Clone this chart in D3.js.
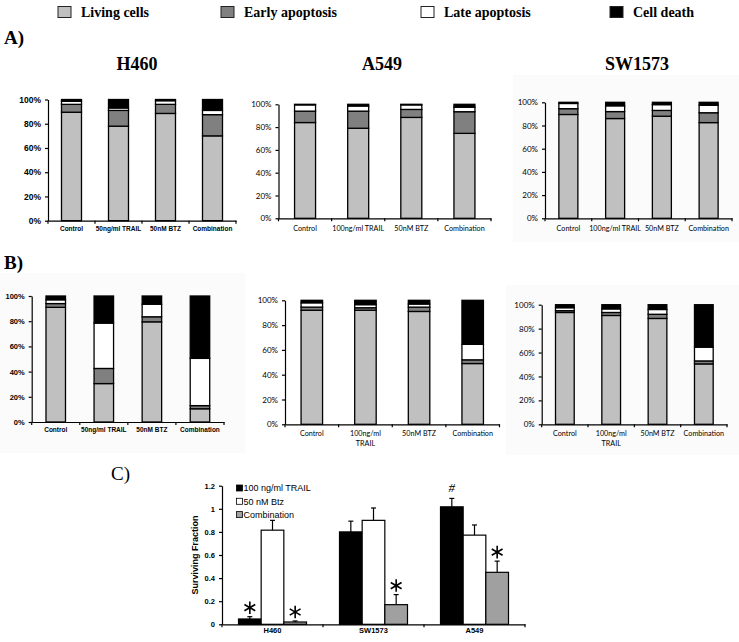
<!DOCTYPE html>
<html>
<head>
<meta charset="utf-8">
<script src="https://cdn.jsdelivr.net/npm/d3@7"></script>
<style>
  body { margin: 0; background: #fff; }
  svg { display: block; }
</style>
</head>
<body>
<div id="chart"></div>
<script>
// ---- data ----
var stageKeys = ["living", "early", "late", "death"];
var stageNames = ["Living cells", "Early apoptosis", "Late apoptosis", "Cell death"];

var treatH460 = ["Control", "50ng/ml TRAIL", "50nM BTZ", "Combination"];
var treatOther = ["Control", "100ng/ml TRAIL", "50nM BTZ", "Combination"];
var pctTicks = [0, 20, 40, 60, 80, 100];

// A) percentages per treatment: living, early, late, death
var aH460 = [[89.5, 6.5, 2.5, 1.5], [78, 13, 2, 7], [88.5, 7.5, 3, 1], [70, 17.5, 3.5, 9]];
var aA549 = [[84, 10, 5.5, 0.5], [79, 15, 4.5, 1.5], [88.5, 7, 4, 0.5], [74.5, 19, 4, 2.5]];
var aSW1573 = [[89.5, 5, 4.5, 1], [86, 6, 5, 3], [88, 5, 5, 2], [82.5, 8.5, 6.5, 2.5]];
// B)
var bH460 = [[91, 3, 3, 3], [30.5, 12, 36, 21.5], [79.5, 4, 10, 6.5], [10.5, 2.5, 37.5, 49.5]];
var bA549 = [[92, 2.5, 3.5, 2], [92, 2, 2.5, 3.5], [91, 3.5, 2.5, 3], [49, 3, 12.5, 35.5]];
var bSW1573 = [[93.5, 1.5, 2.5, 2.5], [91, 2.5, 3, 3.5], [88.5, 3.5, 4, 4], [50.5, 2.5, 11.5, 35.5]];

// C) surviving fraction
var cellLines = ["H460", "SW1573", "A549"];
var survTreat = ["100 ng/ml TRAIL", "50 nM Btz", "Combination"];
var survTRAIL = [0.046, 0.80, 1.017];
var survBtz = [0.815, 0.90, 0.772];
var survCombo = [0.02, 0.17, 0.45];
var errTRAIL = [0.02, 0.093, 0.073];
var errBtz = [0.085, 0.107, 0.088];
var errCombo = [0.009, 0.087, 0.097];
var markTRAIL = ["*", "", "#"];
var markBtz = ["", "", ""];
var markCombo = ["*", "*", "*"];
var survTicks = [0, 0.2, 0.4, 0.6, 0.8, 1, 1.2];

// ---- styles ----
var stageColors = ["#c0c0c0", "#808080", "#ffffff", "#000000"];
var survColors = ["#000000", "#ffffff", "#a0a0a0"];
var SERIF = "'Liberation Serif', 'Times New Roman', serif";
var ARIAL = "'Liberation Sans', Arial, sans-serif";
var CALIBRI = "Lato, 'Open Sans', sans-serif";

var width = 739, height = 642;
var svg = d3.select("#chart").append("svg")
    .attr("width", width)
    .attr("height", height);

// faint backgrounds behind some pasted panels
[[513, 75, 226, 167], [0, 273, 245, 180], [506, 285, 233, 170]].forEach(function(b) {
  svg.append("rect")
      .attr("x", b[0]).attr("y", b[1]).attr("width", b[2]).attr("height", b[3])
      .attr("fill", "#fbfbfb");
});

// top legend
var legX = [58, 221, 421, 610];
stageNames.forEach(function(n, i) {
  svg.append("rect")
      .attr("x", legX[i]).attr("y", 6.5)
      .attr("width", 13).attr("height", 11)
      .attr("fill", stageColors[i])
      .attr("stroke", "#222").attr("stroke-width", 1);
  svg.append("text")
      .attr("x", legX[i] + 23).attr("y", 17)
      .attr("font-family", SERIF).attr("font-weight", "bold").attr("font-size", 14)
      .text(n);
});

// panel letters and titles
[["A)", 4, 44, "bold"], ["B)", 4, 269, "bold"], ["C)", 111, 480, "normal"]].forEach(function(l) {
  svg.append("text")
      .attr("x", l[1]).attr("y", l[2])
      .attr("font-family", SERIF).attr("font-weight", l[3]).attr("font-size", 19)
      .text(l[0]);
});
[["H460", 137], ["A549", 382], ["SW1573", 637]].forEach(function(t) {
  svg.append("text")
      .attr("x", t[1]).attr("y", 70)
      .attr("text-anchor", "middle")
      .attr("font-family", SERIF).attr("font-weight", "bold").attr("font-size", 18)
      .text(t[0]);
});

// ---- stacked percentage panels ----
var panels = [
  {data: aH460, cats: treatH460, x0: 48, x1: 236, top: 99.5, bottom: 220.7, barW: 20, font: ARIAL, bold: true, tickFs: 8.5, labFs: 6.5, labOff: 10},
  {data: aA549, cats: treatOther, x0: 278.5, x1: 491, top: 104.3, bottom: 218.3, barW: 21, font: CALIBRI, bold: false, tickFs: 8, labFs: 7.2, labOff: 12.5},
  {data: aSW1573, cats: treatOther, x0: 545, x1: 732, top: 102.3, bottom: 218.3, barW: 19, font: CALIBRI, bold: false, tickFs: 8, labFs: 7.2, labOff: 12.5},
  {data: bH460, cats: treatH460, x0: 31.7, x1: 224, top: 296, bottom: 422, barW: 19.5, font: ARIAL, bold: true, tickFs: 7.5, labFs: 6.5, labOff: 10},
  {data: bA549, cats: treatOther, x0: 285, x1: 499.5, top: 300.3, bottom: 424.3, barW: 21.5, font: CALIBRI, bold: false, tickFs: 8, labFs: 7.2, labOff: 11.7, wrap: true},
  {data: bSW1573, cats: treatOther, x0: 541.7, x1: 727, top: 304.7, bottom: 424.3, barW: 18.7, font: CALIBRI, bold: false, tickFs: 8, labFs: 7.2, labOff: 11.7, wrap: true}
];

panels.forEach(function(p) {
  var rows = p.cats.map(function(c, i) {
    var r = {cat: c};
    stageKeys.forEach(function(k, j) { r[k] = p.data[i][j]; });
    return r;
  });
  var series = d3.stack().keys(stageKeys)(rows);

  var x = d3.scaleBand().domain(p.cats).range([p.x0, p.x1]);
  var y = d3.scaleLinear().domain([0, 100]).range([p.bottom, p.top]);
  var g = svg.append("g");

  g.selectAll("g.seg")
    .data(series)
    .enter().append("g")
      .attr("fill", function(d, i) { return stageColors[i]; })
    .selectAll("rect")
    .data(function(d) { return d; })
    .enter().append("rect")
      .attr("x", function(d) { return x(d.data.cat) + (x.bandwidth() - p.barW) / 2; })
      .attr("y", function(d) { return y(d[1]); })
      .attr("width", p.barW)
      .attr("height", function(d) { return y(d[0]) - y(d[1]); })
      .attr("stroke", "#000")
      .attr("stroke-width", 1.3);

  // Y axis
  var ya = g.append("g")
      .attr("transform", "translate(" + p.x0 + ",0)")
      .call(d3.axisLeft(y).tickValues(pctTicks).tickFormat(function(d) { return d + "%"; })
        .tickSize(3).tickSizeOuter(0).tickPadding(4));
  ya.attr("font-family", p.font).attr("font-size", p.tickFs)
    .attr("font-weight", p.bold ? "bold" : "normal");
  ya.selectAll("path, line").attr("stroke", "#000").attr("stroke-width", 1.2);

  // X axis
  var xa = g.append("g")
      .attr("transform", "translate(0," + p.bottom + ")")
      .call(d3.axisBottom(x).tickSize(0).tickSizeOuter(0));
  xa.attr("font-family", p.font).attr("font-size", p.labFs)
    .attr("font-weight", p.bold ? "bold" : "normal");
  xa.select(".domain").attr("stroke", "#000").attr("stroke-width", 1.2);
  xa.selectAll(".tick text")
      .attr("y", p.labOff).attr("dy", 0)
      .each(function(d) {
        if (p.wrap && d.length > 12) {
          var parts = d.split(" ");
          var t = d3.select(this).text(null);
          parts.forEach(function(s, i) {
            t.append("tspan").attr("x", 0).attr("dy", i ? 10.5 : 0).text(s);
          });
        }
      });
  // tick marks between categories
  var edges = p.cats.map(function(c) { return x(c); }).concat([x.range()[1]]);
  xa.selectAll("line.edge")
    .data(edges)
    .enter().append("line")
      .attr("class", "edge")
      .attr("x1", function(d) { return d; }).attr("x2", function(d) { return d; })
      .attr("y1", 0).attr("y2", 3)
      .attr("stroke", "#000").attr("stroke-width", 1.2);
});

// ---- C) surviving fraction ----
var cx0 = 222, cx1 = 525, cTop = 485.7, cBottom = 624.3, groupW = 68;
var cx = d3.scaleBand().domain(cellLines).range([cx0, cx1]);
var cxi = d3.scaleBand().domain(survTreat).range([0, groupW]);
var cy = d3.scaleLinear().domain([0, 1.2]).range([cBottom, cTop]);

var survSeries = [
  {name: survTreat[0], vals: survTRAIL, errs: errTRAIL, marks: markTRAIL, color: survColors[0]},
  {name: survTreat[1], vals: survBtz, errs: errBtz, marks: markBtz, color: survColors[1]},
  {name: survTreat[2], vals: survCombo, errs: errCombo, marks: markCombo, color: survColors[2]}
];
var survRows = [];
survSeries.forEach(function(s) {
  cellLines.forEach(function(c, i) {
    survRows.push({cell: c, treat: s.name, v: s.vals[i], e: s.errs[i], m: s.marks[i], color: s.color});
  });
});
function barX(d) { return cx(d.cell) + (cx.bandwidth() - groupW) / 2 + cxi(d.treat); }
function barMid(d) { return barX(d) + cxi.bandwidth() / 2; }

var cg = svg.append("g");

// error bars (upward only)
cg.selectAll("line.err")
  .data(survRows)
  .enter().append("line")
    .attr("class", "err")
    .attr("x1", barMid).attr("x2", barMid)
    .attr("y1", function(d) { return cy(d.v); })
    .attr("y2", function(d) { return cy(d.v + d.e); })
    .attr("stroke", "#000").attr("stroke-width", 1.2);
cg.selectAll("line.cap")
  .data(survRows)
  .enter().append("line")
    .attr("class", "cap")
    .attr("x1", function(d) { return barMid(d) - 2.5; })
    .attr("x2", function(d) { return barMid(d) + 2.5; })
    .attr("y1", function(d) { return cy(d.v + d.e); })
    .attr("y2", function(d) { return cy(d.v + d.e); })
    .attr("stroke", "#000").attr("stroke-width", 1.2);

cg.selectAll("rect.bar")
  .data(survRows)
  .enter().append("rect")
    .attr("class", "bar")
    .attr("x", barX)
    .attr("y", function(d) { return cy(d.v); })
    .attr("width", cxi.bandwidth())
    .attr("height", function(d) { return cBottom - cy(d.v); })
    .attr("fill", function(d) { return d.color; })
    .attr("stroke", "#000").attr("stroke-width", 1.2);

// significance marks
var star = d3.symbol().type(d3.symbolAsterisk).size(110);
cg.selectAll("path.star")
  .data(survRows.filter(function(d) { return d.m === "*"; }))
  .enter().append("path")
    .attr("class", "star")
    .attr("d", star)
    .attr("transform", function(d) { return "translate(" + barMid(d) + "," + (cy(d.v + d.e) - 9) + ")"; })
    .attr("fill", "none").attr("stroke", "#000").attr("stroke-width", 1.6);
cg.selectAll("text.hash")
  .data(survRows.filter(function(d) { return d.m === "#"; }))
  .enter().append("text")
    .attr("class", "hash")
    .attr("x", function(d) { return barMid(d); })
    .attr("y", function(d) { return cy(d.v + d.e) - 6; })
    .attr("text-anchor", "middle")
    .attr("font-family", SERIF).attr("font-style", "italic").attr("font-size", 13)
    .text("#");

// axes
var cya = cg.append("g")
    .attr("transform", "translate(" + cx0 + ",0)")
    .call(d3.axisLeft(cy).tickValues(survTicks).tickFormat(d3.format("~g"))
      .tickSize(3).tickSizeOuter(0).tickPadding(4));
cya.attr("font-family", ARIAL).attr("font-weight", "bold").attr("font-size", 7.5);
cya.selectAll("path, line").attr("stroke", "#000").attr("stroke-width", 1.2);

var cxa = cg.append("g")
    .attr("transform", "translate(0," + cBottom + ")")
    .call(d3.axisBottom(cx).tickSize(0).tickSizeOuter(0).tickPadding(3));
cxa.attr("font-family", ARIAL).attr("font-weight", "bold").attr("font-size", 7.5);
cxa.select(".domain").attr("stroke", "#000").attr("stroke-width", 1.2);
var cEdges = cellLines.map(function(c) { return cx(c); }).concat([cx1]);
cxa.selectAll("line.edge")
  .data(cEdges)
  .enter().append("line")
    .attr("x1", function(d) { return d; }).attr("x2", function(d) { return d; })
    .attr("y1", 0).attr("y2", 3)
    .attr("stroke", "#000").attr("stroke-width", 1.2);

cg.append("text")
    .attr("transform", "translate(198," + ((cTop + cBottom) / 2) + ") rotate(-90)")
    .attr("text-anchor", "middle")
    .attr("font-family", ARIAL).attr("font-weight", "bold").attr("font-size", 9)
    .text("Surviving Fraction");

// C legend
survSeries.forEach(function(s, i) {
  var ly = 488 + i * 13.3;
  cg.append("rect")
      .attr("x", 236.5).attr("y", ly - 3)
      .attr("width", 6).attr("height", 6)
      .attr("fill", s.color).attr("stroke", "#000").attr("stroke-width", 0.8);
  cg.append("text")
      .attr("x", 243.5).attr("y", ly + 3.3)
      .attr("font-family", ARIAL).attr("font-size", 9)
      .text(s.name);
});
</script>
</body>
</html>
